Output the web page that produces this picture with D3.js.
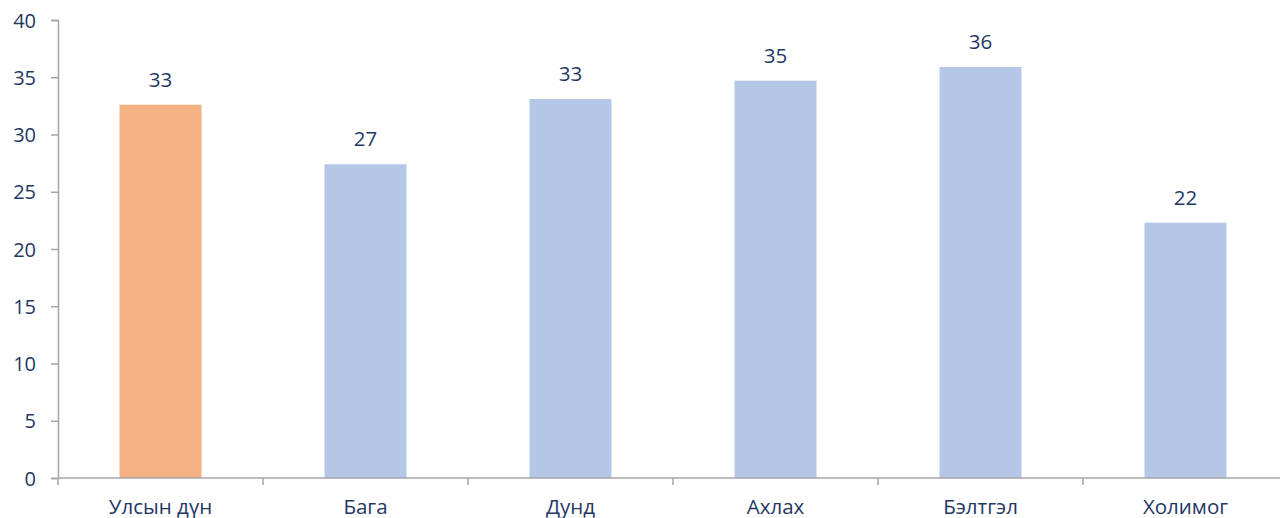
<!DOCTYPE html>
<html><head><meta charset="utf-8">
<script src="https://cdn.jsdelivr.net/npm/d3@7"></script>
<style>body{margin:0;background:#fff;overflow:hidden}svg{display:block}text{font-family:"Open Sans","Noto Sans",sans-serif;fill:#1f3864}</style>
</head><body>
<svg id="c" width="1280" height="518"></svg>
<script>
const categories = ["Улсын дүн","Бага","Дунд","Ахлах","Бэлтгэл","Холимог"];
const values = [32.6, 27.4, 33.1, 34.7, 35.9, 22.3];
const labels = ["33","27","33","35","36","22"];
const yTicks = [0,5,10,15,20,25,30,35,40];

const svg = d3.select("#c");
const x0 = 58, x1 = 58 + 205*6, yTop = 20, yBot = 478;
const xb = d3.scaleBand().domain(categories).range([x0, x1]);
const y = d3.scaleLinear().domain([0,40]).range([yBot, yTop]);

// bars
svg.selectAll("rect.bar").data(categories).join("rect")
  .attr("x", d => xb(d) + xb.bandwidth()/2 - 41)
  .attr("width", 82)
  .attr("y", (d,i) => y(values[i]))
  .attr("height", (d,i) => y(0) - y(values[i]))
  .attr("fill", (d,i) => i === 0 ? "#f4b183" : "#b4c7e7");

// data labels
svg.selectAll("text.lbl").data(categories).join("text")
  .attr("x", d => xb(d) + xb.bandwidth()/2)
  .attr("y", (d,i) => y(values[i]) - 18)
  .attr("text-anchor","middle")
  .attr("font-size", 20.5)
  .text((d,i) => labels[i]);

// y axis
const ya = svg.append("g").attr("transform", `translate(${x0},0)`)
  .call(d3.axisLeft(y).tickValues(yTicks).tickSize(7).tickPadding(15));
ya.select(".domain").attr("stroke","#a6a6a6").attr("stroke-width",1.5);
ya.selectAll(".tick line").attr("stroke","#a6a6a6").attr("stroke-width",1.5);
ya.selectAll(".tick text").attr("font-size",20).attr("fill","#1f3864").attr("font-family","Open Sans, Noto Sans, sans-serif").attr("dy","0.35em");

// x axis
const xa = svg.append("g").attr("transform", `translate(0,${yBot})`);
xa.append("line").attr("x1", x0).attr("x2", x1).attr("y1",0).attr("y2",0).attr("stroke","#a6a6a6").attr("stroke-width",1.5);
xa.selectAll("line.tk").data(categories).join("line")
  .attr("x1", d => xb(d)).attr("x2", d => xb(d)).attr("y1",0).attr("y2",7)
  .attr("stroke","#a6a6a6").attr("stroke-width",1.5);
xa.selectAll("text.cat").data(categories).join("text")
  .attr("x", d => xb(d) + xb.bandwidth()/2)
  .attr("y", 36)
  .attr("text-anchor","middle")
  .attr("font-size",20.5)
  .text(d => d);
</script>
</body></html>
